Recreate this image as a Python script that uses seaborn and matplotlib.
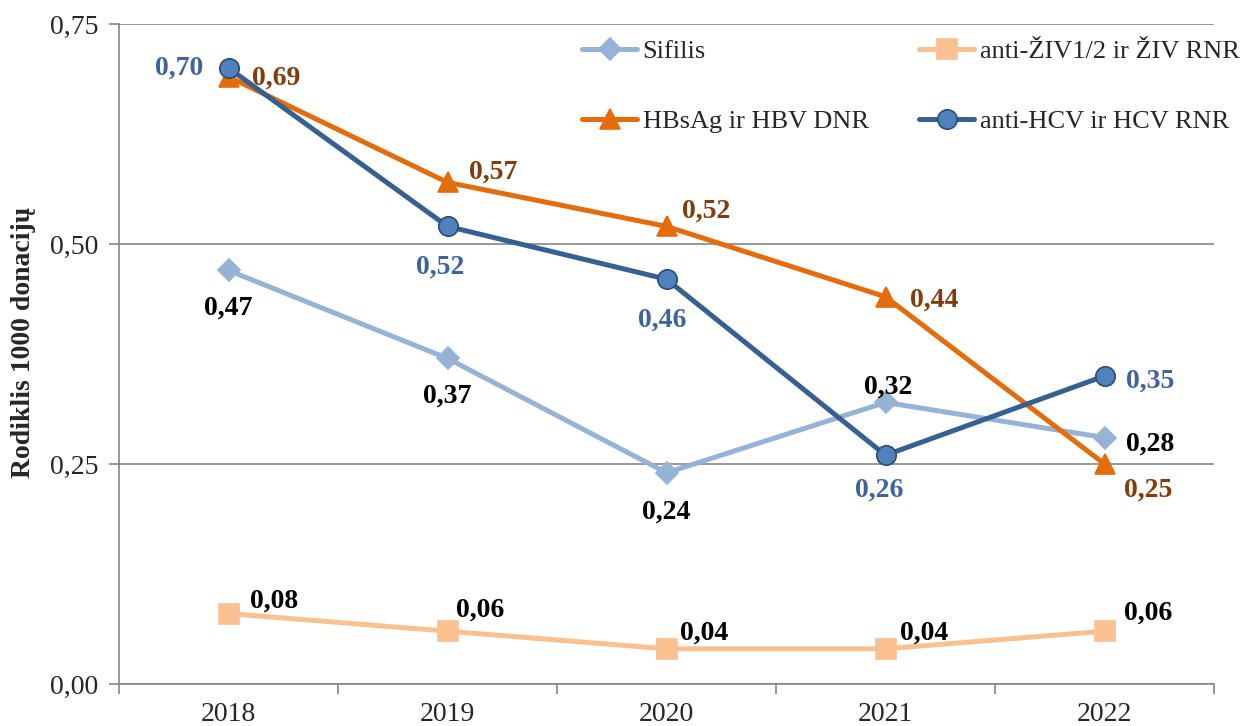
import numpy as np
import pandas as pd
import seaborn as sns
import matplotlib.pyplot as plt

# Data
years = ["2018", "2019", "2020", "2021", "2022"]
sifilis = [0.47, 0.37, 0.24, 0.32, 0.28]
ziv = [0.08, 0.06, 0.04, 0.04, 0.06]
hbsag = [0.69, 0.57, 0.52, 0.44, 0.25]
hcv = [0.70, 0.52, 0.46, 0.26, 0.35]

names = ["Sifilis", "anti-ŽIV1/2 ir ŽIV RNR", "HBsAg ir HBV DNR", "anti-HCV ir HCV RNR"]
series = [sifilis, ziv, hbsag, hcv]

sns.set_theme(style="white")
plt.rcParams['font.family'] = ['Liberation Serif', 'DejaVu Serif']

# Styles per series
styles = {
    "Sifilis": dict(color="#95B3D7", marker="D", ms=11, mfc="#95B3D7", mec="#95B3D7", lab="black"),
    "anti-ŽIV1/2 ir ŽIV RNR": dict(color="#FAC090", marker="s", ms=14, mfc="#FAC090", mec="#FAC090", lab="black"),
    "HBsAg ir HBV DNR": dict(color="#E46C0A", marker="^", ms=15, mfc="#E46C0A", mec="#E46C0A", lab="#843C0C"),
    "anti-HCV ir HCV RNR": dict(color="#376092", marker="o", ms=14, mfc="#4F81BD", mec="#2C4D75", lab="#3E64A0"),
}

# label offsets in pixels (dx, dy)
offsets = {
    "Sifilis": [(0, -38), (0, -38), (0, -39), (3, 15), (46, -7)],
    "anti-ŽIV1/2 ir ŽIV RNR": [(46, 12), (33, 21), (38, 16), (39, 16), (44, 18)],
    "HBsAg ir HBV DNR": [(48, -1), (46, 10), (40, 15), (49, -3), (44, -26)],
    "anti-HCV ir HCV RNR": [(-49, 0), (-7, -41), (-4, -41), (-6, -35), (46, -5)],
}

x = np.arange(len(years))
fig = plt.figure(figsize=(12.57, 7.26), dpi=100)
ax = fig.add_axes([119 / 1257, 1 - 684 / 726, (1214 - 119) / 1257, 660 / 726])

handles = {}
for name, vals in zip(names, series):
    st = styles[name]
    sns.lineplot(x=x, y=vals, ax=ax, color=st["color"], linewidth=3.6,
                 marker=st["marker"], markersize=st["ms"], markerfacecolor=st["mfc"],
                 markeredgecolor=st["mec"], markeredgewidth=1.2, label=name, legend=False)
    handles[name] = ax.lines[-1]
    for xi, v, (dx, dy) in zip(x, vals, offsets[name]):
        ax.annotate(f"{v:.2f}".replace(".", ","), (xi, v), xytext=(dx, dy),
                    textcoords="offset pixels", ha="center", va="center",
                    fontsize=20, fontweight="bold", color=st["lab"])

ax.set_xlim(-0.5, 4.5)
ax.set_ylim(0, 0.75)
ax.set_yticks([0, 0.25, 0.5, 0.75])
ax.set_yticklabels(["0,00", "0,25", "0,50", "0,75"])
ax.set_xticks(np.arange(-0.5, 5, 1))
ax.set_xticklabels([])
ax.set_xticks(x, minor=True)
ax.set_xticklabels(years, minor=True)
ax.tick_params(axis="x", which="major", length=7, width=1.2, color="#868686", direction="out", bottom=True)
ax.tick_params(axis="x", which="minor", length=0, pad=13, labelsize=20)
ax.tick_params(axis="y", length=7, width=1.2, color="#868686", direction="out", left=True, labelsize=20, pad=8)
ax.grid(axis="y", color="#868686", linewidth=1.2)
ax.grid(axis="x", visible=False)
for s in ["top", "right"]:
    ax.spines[s].set_visible(False)
for s in ["left", "bottom"]:
    ax.spines[s].set_color("#868686")
    ax.spines[s].set_linewidth(1.2)
ax.set_axisbelow(True)
ax.set_xlabel("")
ax.set_ylabel("Rodiklis 1000 donacijų", fontsize=20, fontweight="bold")
ax.yaxis.set_label_coords(-0.076, 0.518)

order = [names[0], names[2], names[1], names[3]]
ax.legend([handles[n] for n in order], order, ncol=2, loc="upper left",
          bbox_to_anchor=(582 / 1257, 1 - 40 / 726), bbox_transform=fig.transFigure,
          frameon=False, fontsize=19, handlelength=2.1, handletextpad=0.2,
          columnspacing=1.9, labelspacing=1.75, borderpad=0, borderaxespad=0)

fig.savefig("out.png", dpi=100)
